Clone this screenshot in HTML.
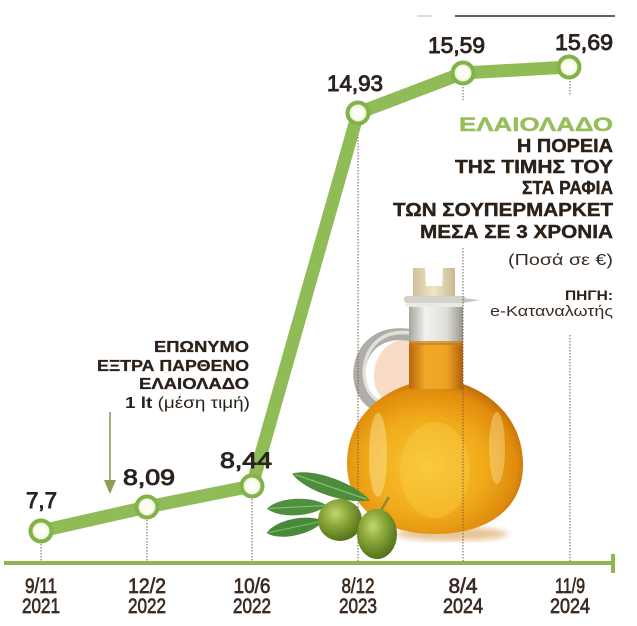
<!DOCTYPE html>
<html><head><meta charset="utf-8">
<style>
html,body{margin:0;padding:0;background:#fff;}
svg{display:block;}
</style></head>
<body>
<svg width="637" height="626" viewBox="0 0 637 626" xmlns="http://www.w3.org/2000/svg">
<defs>
  <radialGradient id="body" cx="0.45" cy="0.55" r="0.6">
    <stop offset="0" stop-color="#f9c635"/>
    <stop offset="0.55" stop-color="#f0aa1a"/>
    <stop offset="0.85" stop-color="#e08c0c"/>
    <stop offset="1" stop-color="#bf6606"/>
  </radialGradient>
  <linearGradient id="glass" x1="0" y1="0" x2="1" y2="0">
    <stop offset="0" stop-color="#a4a49c"/>
    <stop offset="0.3" stop-color="#f2f2ee"/>
    <stop offset="0.7" stop-color="#deded8"/>
    <stop offset="1" stop-color="#96968e"/>
  </linearGradient>
  <linearGradient id="neckoil" x1="0" y1="0" x2="1" y2="0">
    <stop offset="0" stop-color="#b8650a"/>
    <stop offset="0.3" stop-color="#f0a828"/>
    <stop offset="0.7" stop-color="#eea225"/>
    <stop offset="1" stop-color="#b0600a"/>
  </linearGradient>
  <linearGradient id="cork" x1="0" y1="0" x2="1" y2="0">
    <stop offset="0" stop-color="#cfc19a"/>
    <stop offset="0.5" stop-color="#efe6c8"/>
    <stop offset="1" stop-color="#c8b890"/>
  </linearGradient>
  <radialGradient id="olive" cx="0.4" cy="0.35" r="0.65">
    <stop offset="0" stop-color="#c4d870"/>
    <stop offset="0.45" stop-color="#8aa83a"/>
    <stop offset="1" stop-color="#55731a"/>
  </radialGradient>
  <radialGradient id="dot" cx="0.5" cy="0.5" r="0.5">
    <stop offset="0" stop-color="#ffffff"/>
    <stop offset="0.6" stop-color="#f8fcec"/>
    <stop offset="1" stop-color="#d2e6a8"/>
  </radialGradient>
  <filter id="blur"><feGaussianBlur stdDeviation="3"/></filter>
</defs>

<!-- top decoration line -->
<line x1="455" y1="16" x2="615" y2="16" stroke="#2e2a26" stroke-width="1.6"/>
<line x1="417" y1="16" x2="432" y2="16" stroke="#bbbbbb" stroke-width="1"/>

<!-- axis -->
<line x1="4" y1="563" x2="613" y2="563" stroke="#8fb655" stroke-width="4"/>
<line x1="613" y1="554" x2="613" y2="573" stroke="#8fb655" stroke-width="4"/>

<!-- jar shadow -->
<ellipse cx="452" cy="534" rx="56" ry="7" fill="#e2b87e" opacity="0.8" filter="url(#blur)"/>

<!-- handle inner fill -->
<path d="M410,340 C372,336 364,390 386,400 L410,388 Z" fill="#f9dcc6"/>
<!-- handle -->
<path d="M410,335 C354,326 346,392 378,406" fill="none" stroke="#aeaea6" stroke-width="12" stroke-linecap="round"/>
<path d="M410,333 C360,326 353,388 379,401" fill="none" stroke="#ececE6" stroke-width="3.5" stroke-linecap="round" opacity="0.8"/>

<!-- body -->
<path d="M410,384 C378,394 347,420 347,463 C347,510 385,534 435,534 C486,534 523,510 523,465 C523,420 492,394 463,384 Z" fill="url(#body)"/>
<ellipse cx="378" cy="455" rx="9" ry="42" fill="#fde7a2" opacity="0.45"/>
<ellipse cx="497" cy="448" rx="8" ry="36" fill="#fde7a2" opacity="0.4"/>
<ellipse cx="435" cy="470" rx="35" ry="48" fill="#fbd24e" opacity="0.35"/>

<!-- neck -->
<rect x="409" y="304" width="54" height="40" fill="url(#glass)"/>
<rect x="409" y="343" width="54" height="46" fill="url(#neckoil)"/>
<rect x="409" y="341" width="54" height="4" fill="#c97d12" opacity="0.7"/>
<!-- lip -->
<rect x="404" y="296" width="62" height="7" rx="3" fill="#d2d2ca"/>
<path d="M462,298 L480,300 L463,303 Z" fill="#c4c4bc"/>
<rect x="406" y="303" width="58" height="4" rx="2" fill="#eaeae4"/>
<!-- cork -->
<path d="M413,268 L425,268 L426,286 L442,286 L443,268 L455,268 L455,296 L413,296 Z" fill="url(#cork)"/>

<!-- leaves -->
<g>
  <path d="M-41,0 C-25,-12 20,-12 41,0 C20,12 -25,12 -41,0 Z" fill="#4c8c3c" transform="translate(331,487) rotate(19)"/>
  <path d="M-38,0 L38,0" stroke="#86bd6a" stroke-width="1.2" transform="translate(331,487) rotate(19)"/>
  <path d="M-30,0 C-18,-11 15,-11 30,0 C15,11 -18,11 -30,0 Z" fill="#4f9040" transform="translate(297,507) rotate(-3)"/>
  <path d="M-28,0 L28,0" stroke="#88c06c" stroke-width="1.1" transform="translate(297,507) rotate(-3)"/>
  <path d="M-29,0 C-18,-11 15,-11 29,0 C15,11 -18,11 -29,0 Z" fill="#4a883a" transform="translate(295,527) rotate(-12)"/>
  <path d="M-27,0 L27,0" stroke="#86bc6a" stroke-width="1.1" transform="translate(295,527) rotate(-12)"/>
</g>
<line x1="380" y1="512" x2="389" y2="497" stroke="#8c8a3a" stroke-width="2.5"/>
<ellipse cx="340" cy="520" rx="22" ry="21" fill="url(#olive)"/>
<ellipse cx="377" cy="534" rx="20" ry="25" fill="url(#olive)"/>

<!-- dotted guide lines -->
<g stroke="#7a5a44" stroke-width="1" stroke-dasharray="1.5 1.5">
  <line x1="41" y1="541" x2="41" y2="562"/>
  <line x1="147" y1="517" x2="147" y2="562"/>
  <line x1="252" y1="496" x2="252" y2="562"/>
  <line x1="358" y1="125" x2="358" y2="562"/>
  <line x1="463" y1="84" x2="463" y2="100"/>
  <line x1="463" y1="248" x2="463" y2="562"/>
  <line x1="570" y1="78" x2="570" y2="95"/>
  <line x1="570" y1="335" x2="570" y2="562"/>
</g>

<!-- main line -->
<polyline points="41,531 147,507 252,486 358,113 463,73 569,67" fill="none" stroke="#8fbc57" stroke-width="13" stroke-linejoin="round" stroke-linecap="round"/>
<g fill="url(#dot)" stroke="#84b24a" stroke-width="4">
  <circle cx="41" cy="531" r="10.5"/>
  <circle cx="147" cy="507" r="10.5"/>
  <circle cx="252" cy="486" r="10.5"/>
  <circle cx="358" cy="113" r="10.5"/>
  <circle cx="463" cy="73" r="10.5"/>
  <circle cx="569" cy="67" r="10.5"/>
</g>

<!-- arrow -->
<line x1="110" y1="412" x2="110" y2="483" stroke="#8e9c56" stroke-width="1.6"/>
<path d="M104,480 L116,480 L110,494 Z" fill="#8e9c56"/>

<!-- value labels -->
<g font-family="Liberation Sans, sans-serif" font-size="22" fill="#2a231e" stroke="#2a231e" stroke-width="0.9">
  <text x="26" y="508" textLength="31" lengthAdjust="spacingAndGlyphs">7,7</text>
  <text x="123" y="485" textLength="52" lengthAdjust="spacingAndGlyphs">8,09</text>
  <text x="220" y="468" textLength="52" lengthAdjust="spacingAndGlyphs">8,44</text>
  <text x="327" y="91" textLength="56" lengthAdjust="spacingAndGlyphs">14,93</text>
  <text x="428" y="53" textLength="57" lengthAdjust="spacingAndGlyphs">15,59</text>
  <text x="555" y="50" textLength="58" lengthAdjust="spacingAndGlyphs">15,69</text>
</g>

<!-- date labels -->
<g font-family="Liberation Sans, sans-serif" font-size="21" fill="#3b2c22" stroke="#3b2c22" stroke-width="0.7" text-anchor="middle">
  <text x="41" y="593" textLength="32" lengthAdjust="spacingAndGlyphs">9/11</text>
  <text x="41" y="613" textLength="38" lengthAdjust="spacingAndGlyphs">2021</text>
  <text x="147" y="593" textLength="38" lengthAdjust="spacingAndGlyphs">12/2</text>
  <text x="147" y="613" textLength="38" lengthAdjust="spacingAndGlyphs">2022</text>
  <text x="252" y="593" textLength="37" lengthAdjust="spacingAndGlyphs">10/6</text>
  <text x="252" y="613" textLength="38" lengthAdjust="spacingAndGlyphs">2022</text>
  <text x="358" y="593" textLength="33" lengthAdjust="spacingAndGlyphs">8/12</text>
  <text x="358" y="613" textLength="38" lengthAdjust="spacingAndGlyphs">2023</text>
  <text x="463" y="593" textLength="29" lengthAdjust="spacingAndGlyphs">8/4</text>
  <text x="463" y="613" textLength="40" lengthAdjust="spacingAndGlyphs">2024</text>
  <text x="570" y="593" textLength="30" lengthAdjust="spacingAndGlyphs">11/9</text>
  <text x="570" y="613" textLength="40" lengthAdjust="spacingAndGlyphs">2024</text>
</g>

<!-- right title block -->
<g font-family="Liberation Sans, sans-serif" font-weight="bold" text-anchor="end">
  <text x="613" y="131" font-size="19" fill="#96bf5a" stroke="#96bf5a" stroke-width="0.4" textLength="154" lengthAdjust="spacingAndGlyphs">ΕΛΑΙΟΛΑΔΟ</text>
  <g font-size="18" fill="#2b2119" stroke="#2b2119" stroke-width="0.4">
    <text x="613" y="152" textLength="96" lengthAdjust="spacingAndGlyphs">Η ΠΟΡΕΙΑ</text>
    <text x="613" y="173" textLength="158" lengthAdjust="spacingAndGlyphs">ΤΗΣ ΤΙΜΗΣ ΤΟΥ</text>
    <text x="613" y="194" textLength="91" lengthAdjust="spacingAndGlyphs">ΣΤΑ ΡΑΦΙΑ</text>
    <text x="613" y="216" textLength="220" lengthAdjust="spacingAndGlyphs">ΤΩΝ ΣΟΥΠΕΡΜΑΡΚΕΤ</text>
    <text x="613" y="238" textLength="193" lengthAdjust="spacingAndGlyphs">ΜΕΣΑ ΣΕ 3 ΧΡΟΝΙΑ</text>
  </g>
  <text x="613" y="265" font-size="16" font-weight="normal" fill="#3a2c22" textLength="105" lengthAdjust="spacingAndGlyphs">(Ποσά σε €)</text>
  <text x="613" y="300" font-size="14" fill="#2b2119" textLength="48" lengthAdjust="spacingAndGlyphs">ΠΗΓΗ:</text>
  <text x="613" y="316" font-size="15" font-weight="normal" fill="#3a2c22" textLength="123" lengthAdjust="spacingAndGlyphs">e-Καταναλωτής</text>
</g>

<!-- left description block -->
<g font-family="Liberation Sans, sans-serif" font-weight="bold" text-anchor="end" font-size="16" fill="#2b2119" stroke="#2b2119" stroke-width="0.3">
  <text x="249" y="352" textLength="95" lengthAdjust="spacingAndGlyphs">ΕΠΩΝΥΜΟ</text>
  <text x="249" y="371" textLength="152" lengthAdjust="spacingAndGlyphs">ΕΞΤΡΑ ΠΑΡΘΕΝΟ</text>
  <text x="249" y="389" textLength="110" lengthAdjust="spacingAndGlyphs">ΕΛΑΙΟΛΑΔΟ</text>
</g>
<text x="125" y="408" font-family="Liberation Sans, sans-serif" font-size="16" fill="#2b2119" textLength="125" lengthAdjust="spacingAndGlyphs"><tspan font-weight="bold">1 lt</tspan> (μέση τιμή)</text>
</svg>
</body></html>
